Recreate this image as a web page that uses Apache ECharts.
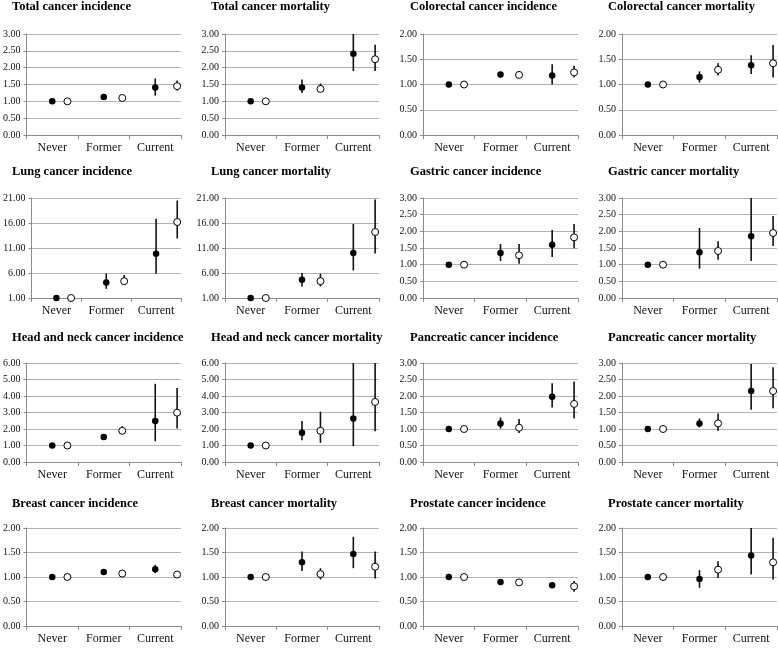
<!DOCTYPE html>
<html>
<head>
<meta charset="utf-8">
<script src="https://cdn.jsdelivr.net/npm/echarts@6/dist/echarts.min.js"></script>
<style>
html,body{margin:0;padding:0;background:#fff;}
#chart{width:778px;height:648px;}
</style>
</head>
<body>
<div id="chart"></div>
<script>
const categories = ['Never', 'Former', 'Current'];
const panelTitles = [
  'Total cancer incidence', 'Total cancer mortality', 'Colorectal cancer incidence', 'Colorectal cancer mortality',
  'Lung cancer incidence', 'Lung cancer mortality', 'Gastric cancer incidence', 'Gastric cancer mortality',
  'Head and neck cancer incidence', 'Head and neck cancer mortality', 'Pancreatic cancer incidence', 'Pancreatic cancer mortality',
  'Breast cancer incidence', 'Breast cancer mortality', 'Prostate cancer incidence', 'Prostate cancer mortality'
];
const yMin  = [0, 0, 0, 0,  1, 1, 0, 0,  0, 0, 0, 0,  0, 0, 0, 0];
const yMax  = [3, 3, 2, 2,  21, 21, 3, 3,  6, 6, 3, 3,  2, 2, 2, 2];
const yStep = [0.5, 0.5, 0.5, 0.5,  5, 5, 0.5, 0.5,  1, 1, 0.5, 0.5,  0.5, 0.5, 0.5, 0.5];

// filled-circle series: estimate, lower and upper CI (Never, Former, Current)
const filledEst = [
  [1, 1.13, 1.41], [1, 1.41, 2.41], [1, 1.20, 1.18], [1, 1.15, 1.38],
  [1, 4.08, 9.85], [1, 4.64, 10.0], [1, 1.35, 1.60], [1, 1.37, 1.85],
  [1, 1.52, 2.48], [1, 1.77, 2.64], [1, 1.17, 1.98], [1, 1.17, 2.15],
  [1, 1.10, 1.16], [1, 1.30, 1.47], [1, 0.90, 0.83], [1, 0.96, 1.44]
];
const filledLo = [
  [1, 1.08, 1.17], [1, 1.25, 1.90], [1, 1.14, 1.00], [1, 1.04, 1.21],
  [1, 2.84, 5.90], [1, 3.30, 6.50], [1, 1.11, 1.23], [1, 0.88, 1.11],
  [1, 1.36, 1.26], [1, 1.32, 0.96], [1, 1.01, 1.65], [1, 1.05, 1.58],
  [1, 1.05, 1.08], [1, 1.12, 1.18], [1, 0.87, 0.79], [1, 0.78, 1.05]
];
const filledHi = [
  [1, 1.18, 1.68], [1, 1.65, 3.00], [1, 1.25, 1.40], [1, 1.26, 1.58],
  [1, 5.90, 16.87], [1, 5.98, 15.8], [1, 1.62, 2.04], [1, 2.10, 3.00],
  [1, 1.67, 4.74], [1, 2.48, 6.00], [1, 1.35, 2.39], [1, 1.32, 2.97],
  [1, 1.15, 1.25], [1, 1.52, 1.82], [1, 0.93, 0.87], [1, 1.14, 2.00]
];
// open-circle series
const openEst = [
  [1, 1.10, 1.45], [1, 1.37, 2.25], [1, 1.19, 1.24], [1, 1.29, 1.42],
  [1, 4.36, 16.2], [1, 4.37, 14.2], [1, 1.28, 1.82], [1, 1.41, 1.95],
  [1, 1.89, 2.99], [1, 1.89, 3.64], [1, 1.04, 1.76], [1, 1.17, 2.15],
  [1, 1.07, 1.05], [1, 1.06, 1.21], [1, 0.89, 0.81], [1, 1.15, 1.30]
];
const openLo = [
  [1, 1.06, 1.32], [1, 1.31, 1.90], [1, 1.14, 1.14], [1, 1.18, 1.14],
  [1, 3.60, 12.9], [1, 3.30, 9.90], [1, 1.03, 1.49], [1, 1.15, 1.56],
  [1, 1.73, 2.03], [1, 1.16, 1.87], [1, 0.88, 1.32], [1, 0.95, 1.63],
  [1, 1.04, 1.01], [1, 0.95, 0.97], [1, 0.85, 0.70], [1, 0.98, 0.95]
];
const openHi = [
  [1, 1.14, 1.62], [1, 1.53, 2.68], [1, 1.26, 1.37], [1, 1.42, 1.78],
  [1, 5.60, 20.5], [1, 5.85, 20.7], [1, 1.62, 2.22], [1, 1.70, 2.46],
  [1, 2.17, 4.49], [1, 3.05, 6.00], [1, 1.30, 2.44], [1, 1.47, 2.87],
  [1, 1.10, 1.09], [1, 1.18, 1.52], [1, 0.93, 0.92], [1, 1.32, 1.80]
];

const colLeft = [25, 225, 423, 622];
const colWidth = [156, 154, 155, 155];
const rowTop = [34, 198, 363, 528];
const rowHeight = [101, 100, 99, 98];
const titleLeft = [12, 211, 410, 608];
const titleTop = [0, 165, 331, 497];

const serif = "'Liberation Serif', 'Times New Roman', serif";
const gridColor = '#b3b3b3';

const option = {
  animation: false,
  backgroundColor: '#fff',
  title: [], grid: [], xAxis: [], yAxis: [], series: []
};

function errorBar(params, api) {
  const p1 = api.coord([api.value(0), api.value(1)]);
  const p2 = api.coord([api.value(0), api.value(2)]);
  return {
    type: 'line',
    shape: { x1: p1[0], y1: p1[1], x2: p2[0], y2: p2[1] },
    style: { stroke: '#111', lineWidth: 1.6 }
  };
}

for (let p = 0; p < 16; p++) {
  const r = Math.floor(p / 4), c = p % 4;
  option.title.push({
    text: panelTitles[p], left: titleLeft[c], top: titleTop[r], padding: 0,
    textStyle: { fontFamily: serif, fontSize: 12.5, fontWeight: 'bold', color: '#000' }
  });
  option.grid.push({ left: colLeft[c], top: rowTop[r], width: colWidth[c], height: rowHeight[r] });
  option.xAxis.push({
    type: 'category', gridIndex: p, data: categories, boundaryGap: true,
    axisLine: { show: true, onZero: false, lineStyle: { color: '#8c8c8c', width: 1 } },
    axisTick: { show: true, length: 4, lineStyle: { color: '#8c8c8c' } },
    axisLabel: { fontFamily: serif, fontSize: 12, color: '#111', margin: 7 },
    splitLine: { show: false }
  });
  option.xAxis.push({
    type: 'value', gridIndex: p, show: false, min: -0.746, max: 2.071,
    axisLine: { show: false, onZero: false },
    splitLine: { show: false }
  });
  option.yAxis.push({
    type: 'value', gridIndex: p, min: yMin[p], max: yMax[p], interval: yStep[p],
    axisLine: { show: true, onZero: false, lineStyle: { color: '#8c8c8c', width: 1 } },
    axisTick: { show: true, length: 3, lineStyle: { color: '#8c8c8c' } },
    axisLabel: { fontFamily: serif, fontSize: 10, color: '#111', margin: 6,
      formatter: v => v.toFixed(2) },
    splitLine: { show: true, lineStyle: { color: gridColor, width: 1 } }
  });
  const fx = 2 * p, ox = 2 * p + 1;
  option.series.push({
    type: 'custom', xAxisIndex: fx, yAxisIndex: p, clip: true, z: 2,
    renderItem: errorBar, encode: { x: 0, y: [1, 2] },
    data: categories.map((_, i) => [i, filledLo[p][i], filledHi[p][i]])
  });
  option.series.push({
    type: 'custom', xAxisIndex: ox, yAxisIndex: p, clip: true, z: 2,
    renderItem: errorBar, encode: { x: 0, y: [1, 2] },
    data: categories.map((_, i) => [i, openLo[p][i], openHi[p][i]])
  });
  option.series.push({
    type: 'scatter', name: 'Filled', xAxisIndex: fx, yAxisIndex: p, z: 3,
    symbol: 'circle', symbolSize: 6.5,
    itemStyle: { color: '#000', opacity: 1 },
    data: categories.map((_, i) => [i, filledEst[p][i]])
  });
  option.series.push({
    type: 'scatter', name: 'Open', xAxisIndex: ox, yAxisIndex: p, z: 3,
    symbol: 'circle', symbolSize: 7,
    itemStyle: { color: '#fff', borderColor: '#000', borderWidth: 1, opacity: 1 },
    data: categories.map((_, i) => [i, openEst[p][i]])
  });
}

const chart = echarts.init(document.getElementById('chart'), null, { renderer: 'canvas' });
chart.setOption(option);
</script>
</body>
</html>
